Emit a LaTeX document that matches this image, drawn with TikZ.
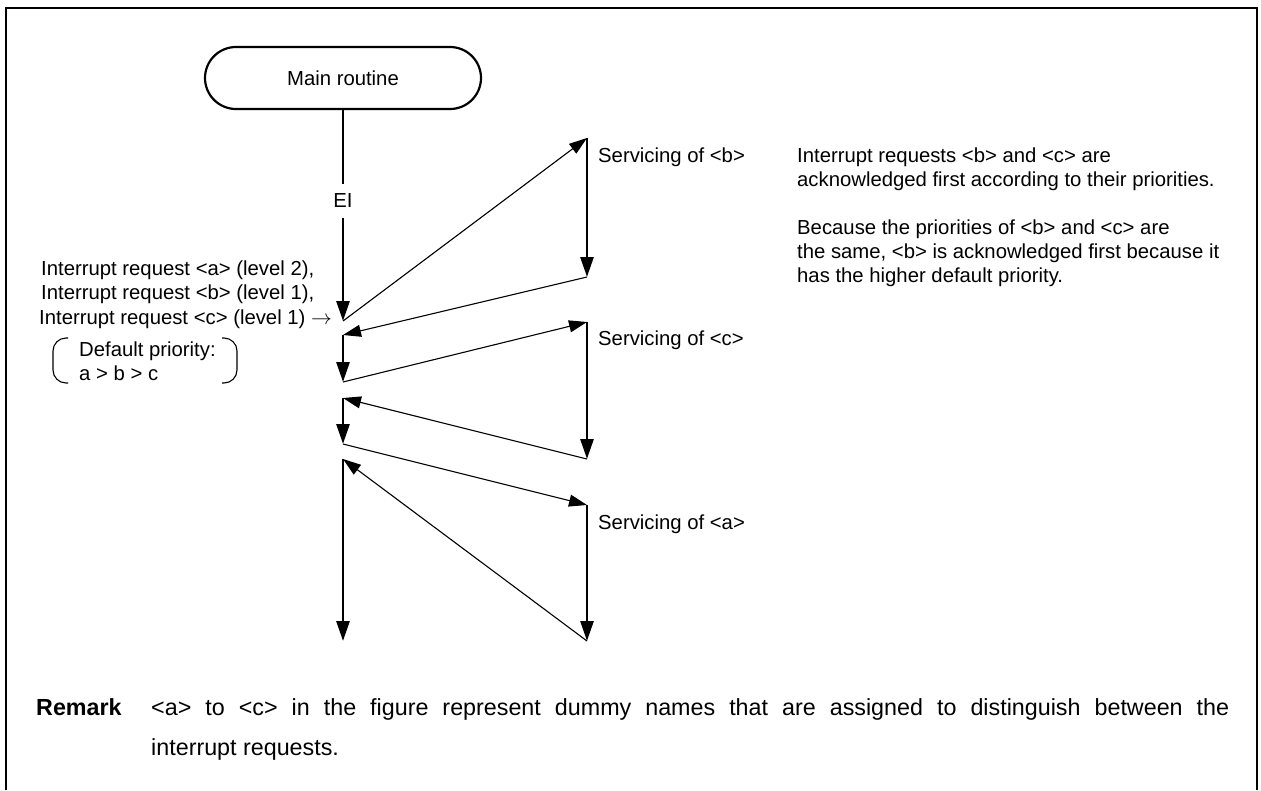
\documentclass[tikz,border=0pt]{standalone}
\usepackage{fontspec}
\setmainfont{Liberation Sans}
\usetikzlibrary{arrows.meta}
\begin{document}
\begin{tikzpicture}[x=1pt,y=-1pt,
  txt/.style={font=\fontsize{20.3}{24}\selectfont, inner sep=0pt, anchor=base west},
  rtxt/.style={font=\fontsize{23.3}{28}\selectfont, inner sep=0pt, anchor=base west},
  thickarr/.style={line width=2.8pt, -{Triangle[length=20pt,width=13pt]}},
  thinarr/.style={line width=1.1pt, -{Triangle[length=18pt,width=12pt]}},
  frameline/.style={line width=1.7pt},
  bracket/.style={line width=1.1pt, rounded corners=13pt},
]
\useasboundingbox (0,0) rectangle (1261,790);
% frame
\draw[frameline] (6,790) -- (6,8) -- (1257,8) -- (1257,790);
% main routine
\node[draw, line width=2.2pt, rounded corners=31pt, minimum width=276pt, minimum height=62pt,
      font=\fontsize{20.3}{24}\selectfont] (main) at (343,78) {Main routine};
\node[font=\fontsize{20.3}{24}\selectfont, inner xsep=2pt, inner ysep=9.5pt] (EI) at (343,201) {EI};
% points
\coordinate (p1) at (343,321);
\coordinate (b1) at (587,138);
\coordinate (b2) at (587,277);
\coordinate (p2) at (343,335);
\coordinate (p3) at (343,382);
\coordinate (c1) at (587,322);
\coordinate (c2) at (587,459);
\coordinate (p4) at (343,398);
\coordinate (p5) at (343,444);
\coordinate (a1) at (587,505);
\coordinate (a2) at (587,641);
\coordinate (p6) at (343,459);
\coordinate (p7) at (343,641);
% connectors
\draw[line width=2.8pt] (main.south) -- (EI.north);
\draw[thickarr] (EI.south) -- (p1);
\draw[thinarr] (p1) -- (b1);
\draw[thickarr] (b1) -- (b2);
\draw[thinarr] (b2) -- (p2);
\draw[thickarr] (p2) -- (p3);
\draw[thinarr] (p3) -- (c1);
\draw[thickarr] (c1) -- (c2);
\draw[thinarr] (c2) -- (p4);
\draw[thickarr] (p4) -- (p5);
\draw[thinarr] (p5) -- (a1);
\draw[thickarr] (a1) -- (a2);
\draw[thinarr] (a2) -- (p6);
\draw[thickarr] (p6) -- (p7);
% servicing labels
\node[txt] (sb) at (598,162) {Servicing of <b>};
\node[txt] (sc) at (598,345) {Servicing of <c>};
\node[txt] (sa) at (598,529) {Servicing of <a>};
% interrupt requests
\node[txt] (ra) at (41,275) {Interrupt request <a> (level 2),};
\node[txt] (rb) at (41,299.5) {Interrupt request <b> (level 1),};
\node[txt] (rc) at (39,324) {Interrupt request <c> (level 1) $\rightarrow$};
% default priority
\draw[bracket] (68,338) -- (53,338) -- (53,383) -- (68,383);
\draw[bracket] (222,338) -- (237,338) -- (237,383) -- (222,383);
\node[txt] (dp1) at (79,356) {Default priority:};
\node[txt] (dp2) at (79,380) {a > b > c};
% explanation
\node[txt] (e1) at (797,162) {Interrupt requests <b> and <c> are};
\node[txt] (e2) at (797,186) {acknowledged first according to their priorities.};
\node[txt] (e3) at (797,234) {Because the priorities of <b> and <c> are};
\node[txt] (e4) at (797,258) {the same, <b> is acknowledged first because it};
\node[txt] (e5) at (797,282) {has the higher default priority.};
% remark
\node[rtxt, font={\fontsize{23.3}{28}\selectfont\bfseries}] (rem) at (36,715) {Remark};
\node[rtxt] (rem1) at (151,715) {\makebox[1078pt][s]{<a> to <c> in the figure represent dummy names that are assigned to distinguish between the}};
\node[rtxt] (rem2) at (151,755) {interrupt requests.};
\end{tikzpicture}
\end{document}
